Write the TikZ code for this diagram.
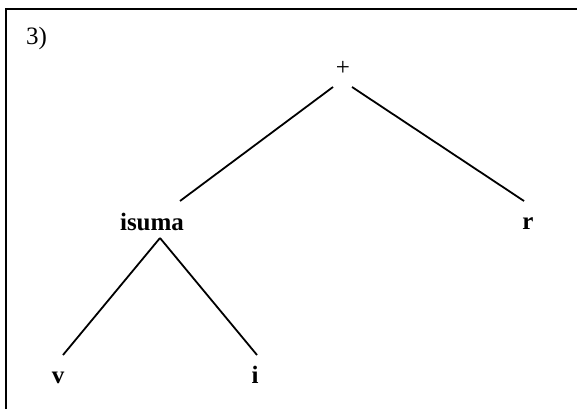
\documentclass[tikz,border=0pt]{standalone}
\usepackage{fontspec}
\setmainfont{Liberation Serif}
\usetikzlibrary{calc}
\begin{document}
\begin{tikzpicture}[x=1pt,y=1pt,
  lbl/.style={inner sep=0pt,font=\fontsize{25}{30}\selectfont},
  blbl/.style={lbl,font=\fontsize{25}{30}\selectfont\bfseries},
  edge/.style={line width=1.8pt},
  frame/.style={line width=2pt}]
\useasboundingbox (0,0) rectangle (577,-409);
\draw[frame] (6,-409) -- (6,-9) -- (577,-9);
\node[lbl,anchor=base west] (num) at (26,-45) {3)};
\node[lbl] (plus) at (343,-68) {+};
\node[blbl,anchor=base] (isuma) at (152,-230) {isuma};
\node[blbl,anchor=base] (r) at (528,-229) {r};
\node[blbl,anchor=base] (v) at (58,-383) {v};
\node[blbl,anchor=base] (i) at (255,-383) {i};
\draw[edge] ($(plus)+(-10,-19)$) -- ($(isuma.base)+(28,29)$);
\draw[edge] ($(plus)+(9,-19)$) -- ($(r.base)+(-4,28)$);
\draw[edge] ($(isuma.base)+(8,-8)$) -- ($(v.base)+(5,28)$);
\draw[edge] ($(isuma.base)+(8,-8)$) -- ($(i.base)+(2,28)$);
\end{tikzpicture}
\end{document}
